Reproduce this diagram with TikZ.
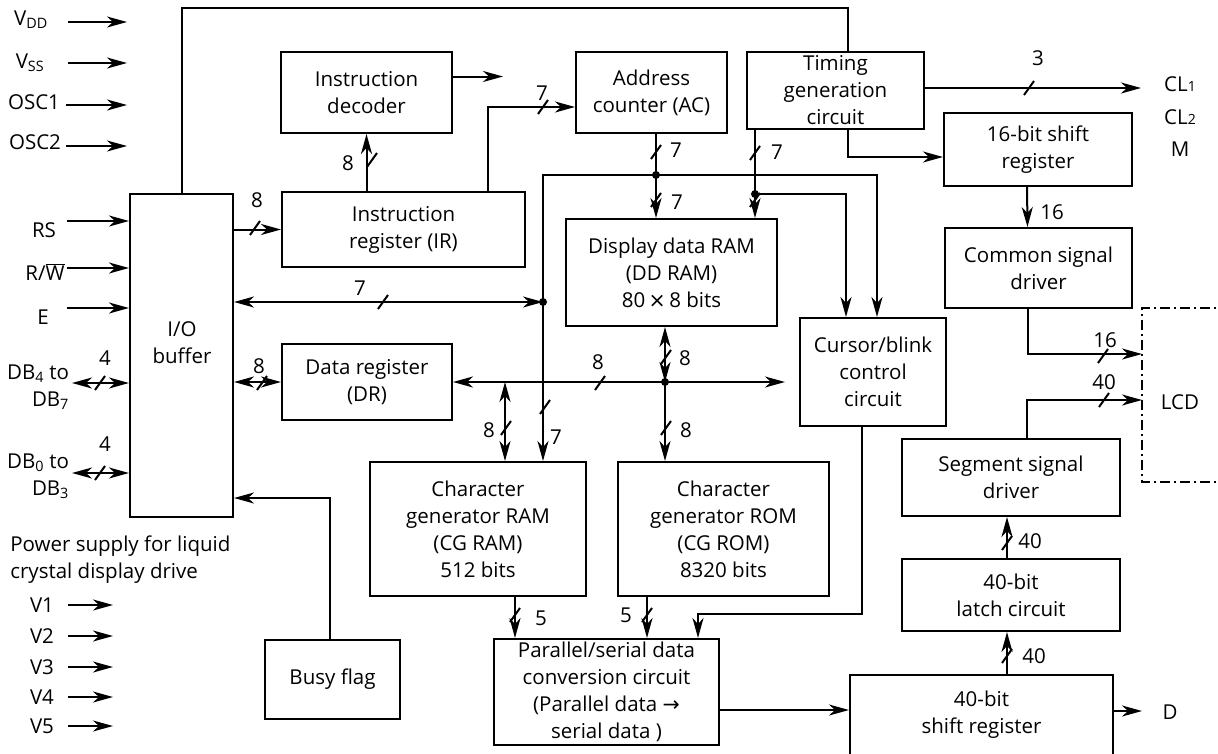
\documentclass[tikz,border=0pt]{standalone}
\usepackage{fontspec}
\setmainfont{Open Sans}
\newfontfamily\symfont{DejaVu Sans}
\usetikzlibrary{arrows.meta}

\begin{document}
\begin{tikzpicture}[x=1pt, y=-1pt, line width=2pt,
    >={Stealth[length=20pt, width=11pt, inset=6pt]},
    font=\fontsize{20.5}{27}\selectfont,
    blk/.style={draw, align=center, inner sep=2pt},
    num/.style={inner sep=1pt},
    dot/.style={circle, fill, inner sep=0pt, minimum size=8pt}]

  \def\tick(#1,#2){\draw (#1-5,#2+7) -- (#1+5,#2-7);}

  \useasboundingbox (0,0) rectangle (1218,753);

  % Blocks
  \node[blk, minimum width=103, minimum height=323] (io) at (181.5,355.5) {};
  \node[align=center] (iotxt) at (182,343) {I/O\\buffer};
  \node[blk, minimum width=171, minimum height=81] (dec) at (366.5,92.5) {Instruction\\decoder};
  \node[blk, minimum width=243, minimum height=75] (ir) at (403.5,229.5) {Instruction\\register (IR)};
  \node[blk, minimum width=170, minimum height=76] (dr) at (367,382) {Data register\\(DR)};
  \node[blk, minimum width=151, minimum height=81] (ac) at (651.5,92.5) {Address\\counter (AC)};
  \node[blk, minimum width=177, minimum height=77] (tim) at (835.5,90.5) {Timing\\generation\\circuit};
  \node[blk, minimum width=188, minimum height=73] (sr16) at (1038,149.5) {16-bit shift\\register};
  \node[blk, minimum width=187, minimum height=80] (com) at (1038.5,268) {Common signal\\driver};
  \node[blk, minimum width=211, minimum height=107] (ddram) at (671.5,272.5) {Display data RAM\\(DD RAM)\\80\,{\symfont ×}\,8 bits};
  \node[blk, minimum width=146, minimum height=108] (cur) at (873,372) {Cursor/blink\\control\\circuit};
  \node[blk, minimum width=216, minimum height=134] (cgram) at (478,529) {Character\\generator RAM\\(CG RAM)\\512 bits};
  \node[blk, minimum width=211, minimum height=134] (cgrom) at (723.5,529) {Character\\generator ROM\\(CG ROM)\\8320 bits};
  \node[blk, minimum width=225, minimum height=106] (ps) at (606.5,692) {Parallel/serial data\\conversion circuit\\(Parallel data {\symfont →}\\serial data )};
  \node[blk, minimum width=135, minimum height=79] (busy) at (332.5,679.5) {Busy flag};
  \node[blk, minimum width=218, minimum height=77] (seg) at (1011,477.5) {Segment signal\\driver};
  \node[blk, minimum width=218, minimum height=72] (latch) at (1011,595) {40-bit\\latch circuit};
  \node[blk, minimum width=263, minimum height=80] (sr40) at (981.5,715) {40-bit\\shift register};

  % LCD
  \draw[line width=1.6pt, dash pattern=on 10pt off 4pt on 2pt off 4pt]
    (1230,308) -| (1142,482) -- (1230,482);
  \node (lcd) at (1180,402) {LCD};
  \coordinate (lcd16) at (1142,354);
  \coordinate (lcd40) at (1142,400);

  % Pins on the left
  \node (vdd) at (31,20) {V\textsubscript{DD}};
  \node (vss) at (30,63) {V\textsubscript{SS}};
  \node (osc1) at (34,102) {OSC1};
  \node (osc2) at (35,142) {OSC2};
  \draw[->] (68,22) -- (127,22);
  \draw[->] (68,63) -- (127,63);
  \draw[->] (66,105) -- (127,105);
  \draw[->] (66,146) -- (127,146);
  \node (rs) at (44,230) {RS};
  \node (rw) at (45,272) {R/$\overline{\mbox{W}}$};
  \node (e) at (43,317) {E};
  \draw[->] (67,221) -- (io.west |- 0,221);
  \draw[->] (67,268) -- (io.west |- 0,268);
  \draw[->] (67,308) -- (io.west |- 0,308);
  \node[align=right] (db4) at (38,387) {DB\textsubscript{4} to\\DB\textsubscript{7}};
  \node[align=right] (db0) at (38,476) {DB\textsubscript{0} to\\DB\textsubscript{3}};
  \draw[<->] (72,383) -- (io.west |- 0,383);
  \draw[<->] (72,473) -- (io.west |- 0,473);
  \tick(100,383) \tick(100,473)
  \node[num] (n4a) at (105,358) {4};
  \node[num] (n4b) at (105,444) {4};

  % LCD drive supply
  \node[align=left, anchor=west] (pwr) at (6,560) {Power supply for liquid\\crystal display drive};
  \foreach \v/\y in {1/605, 2/636, 3/667, 4/697, 5/726} {
    \node (v\v) at (42,\y) {V\v};
    \draw[->] (68,\y) -- (113,\y);
  }

  % Junctions
  \coordinate (acj) at (656,175);
  \coordinate (tj) at (755,194);
  \coordinate (lj) at (543,302);
  \coordinate (bj) at (665,382);
  \node[dot] at (acj) {};
  \node[dot] at (tj) {};
  \node[dot] at (lj) {};
  \node[dot] at (bj) {};

  % Connectors
  \draw (io.north) -- ++(0,-185) -| ([xshift=12.5]tim.north);
  \draw[->] (io.east |- ir.west) -- (ir.west);
  \draw[->] (dec.south |- ir.north) -- (dec.south);
  \draw[->] ([yshift=16]dec.east) -- ++(50,0);
  \draw[->] ([xshift=84.5]ir.north) |- ([yshift=-14.5]ac.west);
  \draw[->] ([yshift=2.5]tim.east) -- ++(216,0);
  \draw[->] ([xshift=12.5]tim.south) |- ([yshift=-7.5]sr16.west);
  \draw[->] ([xshift=-11]sr16.south) -- ([xshift=-11]com.north);
  \draw[->] ([xshift=-11]com.south) |- (lcd16);
  \draw[->] ([xshift=16]seg.north) |- (lcd40);
  \draw[->] ([xshift=-4]latch.north) -- ([xshift=-4]seg.south);
  \draw[->] ([xshift=-4]latch.south |- sr40.north) -- ([xshift=-4]latch.south);
  \node (d) at (1170,712) {D};
  \draw[->] (sr40.east |- 0,711) -- (1142,711);
  \draw[->] ([yshift=-18]ps.east) -- ([yshift=-18]ps.east -| sr40.west);
  \draw[->] ([xshift=37]cgram.south) -- ([xshift=37]cgram.south |- ps.north);
  \draw[->] ([xshift=-76.5]cgrom.south) -- ([xshift=-76.5]cgrom.south |- ps.north);
  \draw[->] ([xshift=-11]cur.south) -- ++(0,187) -| ([xshift=91.5]ps.north);
  \draw[->] ([xshift=-2.5]busy.north) |- ([yshift=-142.5]io.east);
  \draw[<->] (io.east |- dr.west) -- (dr.west);
  \draw[<->] (dr.east) -- (785,382);
  \draw[<->] (ddram.south -| bj) -- (bj);
  \draw[->] (bj) -- (bj |- cgrom.north);
  \draw[<->] ([xshift=27]cgram.north |- dr.east) -- ([xshift=27]cgram.north);
  \draw[<->] ([xshift=65]cgram.north) |- ([xshift=4]cur.north |- acj) -- ([xshift=4]cur.north);
  \draw[->] (ac.south -| acj) -- (acj |- ddram.north);
  \draw[->] (tim.south -| tj) -- (tj |- ddram.north);
  \draw[->] (tj) -| ([xshift=-27]cur.north);
  \draw[<->] (io.east |- lj) -- (lj);

  % Bus widths
  \tick(255,228) \tick(372,160) \tick(543,107) \tick(656,152)
  \tick(755,153) \tick(656,200) \tick(755,200) \tick(383,302)
  \tick(545,407) \tick(262,383) \tick(600,383) \tick(666,357)
  \tick(666,428) \tick(506,428) \tick(515,615) \tick(647,615)
  \tick(1029,88) \tick(1103,356) \tick(1104,400) \tick(1007,543)
  \tick(1007,656)
  \node[num] (w1) at (257,200) {8};
  \node[num] (w2) at (348,163) {8};
  \node[num] (w3) at (542,93) {7};
  \node[num] (w4) at (676,150) {7};
  \node[num] (w5) at (777,152) {7};
  \node[num] (w6) at (677,202) {7};
  \node[num] (w7) at (360,288) {7};
  \node[num] (w8) at (556,437) {7};
  \node[num] (w9) at (259,366) {8};
  \node[num] (w10) at (598,362) {8};
  \node[num] (w11) at (685,358) {8};
  \node[num] (w12) at (686,430) {8};
  \node[num] (w13) at (489,430) {8};
  \node[num] (w14) at (541,618) {5};
  \node[num] (w15) at (626,615) {5};
  \node[num] (w16) at (1038,58) {3};
  \node[num] (w17) at (1052,212) {16};
  \node[num] (w18) at (1105,340) {16};
  \node[num] (w19) at (1104,382) {40};
  \node[num] (w20) at (1030,541) {40};
  \node[num] (w21) at (1034,656) {40};

  % Timing outputs
  \node (cl1) at (1180,84) {CL{\fontsize{14}{14}\selectfont 1}};
  \node (cl2) at (1180,117) {CL{\fontsize{14}{14}\selectfont 2}};
  \node (m) at (1180,149) {M};

\end{tikzpicture}
\end{document}
